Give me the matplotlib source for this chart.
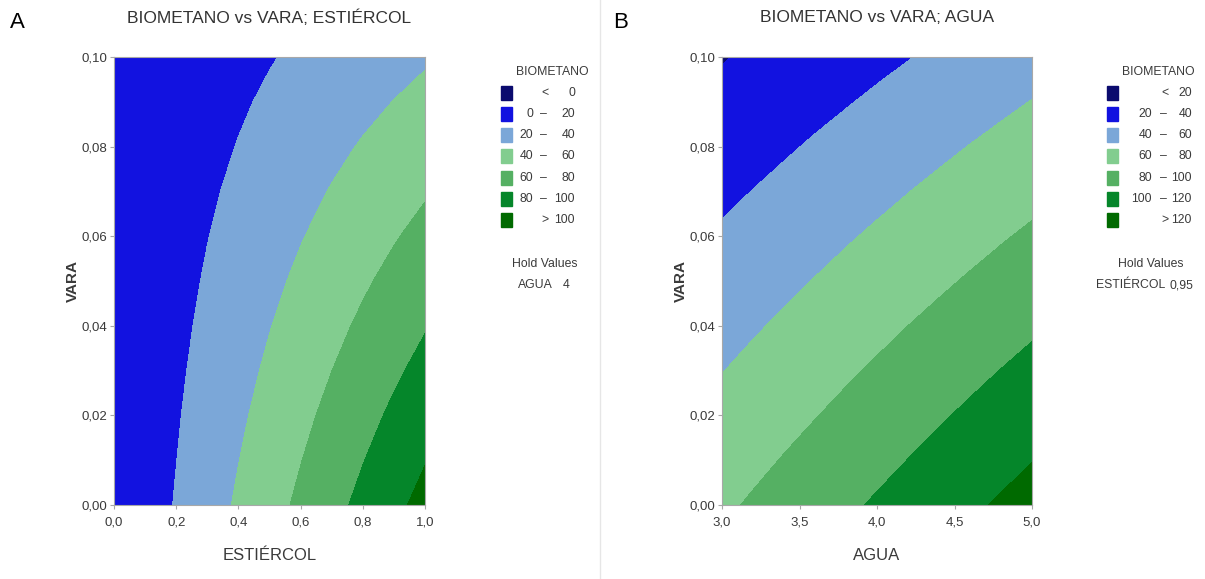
import numpy as np
import matplotlib.pyplot as plt

plt.rcParams['font.family'] = ['Liberation Sans', 'DejaVu Sans']

vara = [0.00, 0.01, 0.02, 0.03, 0.04, 0.05, 0.06, 0.07, 0.08, 0.09, 0.10]

# panel A: ESTIERCOL (x) vs VARA (y), AGUA held at 4
estiercol = [0.0, 0.1, 0.2, 0.3, 0.4, 0.5, 0.6, 0.7, 0.8, 0.9, 1.0]
biometano_a = [
    [0.5, 10.6, 21.2, 31.8, 42.4, 53.0, 63.6, 74.2, 84.8, 95.4, 106.0],
    [0.5, 9.9, 19.8, 29.8, 39.7, 49.6, 59.5, 69.4, 79.4, 89.3, 99.2],
    [0.5, 9.2, 18.5, 27.7, 37.0, 46.2, 55.4, 64.7, 73.9, 83.2, 92.4],
    [0.5, 8.6, 17.1, 25.7, 34.2, 42.8, 51.4, 59.9, 68.5, 77.0, 85.6],
    [0.5, 7.9, 15.8, 23.6, 31.5, 39.4, 47.3, 55.2, 63.0, 70.9, 78.8],
    [0.5, 7.2, 14.4, 21.6, 28.8, 36.0, 43.2, 50.4, 57.6, 64.8, 72.0],
    [0.5, 6.5, 13.0, 19.6, 26.1, 32.6, 39.1, 45.6, 52.2, 58.7, 65.2],
    [0.5, 5.8, 11.7, 17.5, 23.4, 29.2, 35.0, 40.9, 46.7, 52.6, 58.4],
    [0.5, 5.2, 10.3, 15.5, 20.6, 25.8, 31.0, 36.1, 41.3, 46.4, 51.6],
    [0.5, 4.5, 9.0, 13.4, 17.9, 22.4, 26.9, 31.4, 35.8, 40.3, 44.8],
    [0.5, 3.8, 7.6, 11.4, 15.2, 19.0, 22.8, 26.6, 30.4, 34.2, 38.0],
]
levels_a = [0, 20, 40, 60, 80, 100]

# panel B: AGUA (x) vs VARA (y), ESTIERCOL held at 0.95
agua = [3.0, 3.2, 3.4, 3.6, 3.8, 4.0, 4.2, 4.4, 4.6, 4.8, 5.0]
biometano_b = [
    [77.0, 82.0, 87.0, 92.0, 97.0, 102.0, 107.0, 112.0, 117.0, 122.0, 127.0],
    [71.2, 76.0, 80.9, 85.7, 90.6, 95.4, 100.2, 105.1, 109.9, 114.8, 119.6],
    [65.4, 70.1, 74.8, 79.4, 84.1, 88.8, 93.5, 98.2, 102.8, 107.5, 112.2],
    [59.6, 64.1, 68.6, 73.2, 77.7, 82.2, 86.7, 91.2, 95.8, 100.3, 104.8],
    [53.8, 58.2, 62.5, 66.9, 71.2, 75.6, 80.0, 84.3, 88.7, 93.0, 97.4],
    [48.0, 52.2, 56.4, 60.6, 64.8, 69.0, 73.2, 77.4, 81.6, 85.8, 90.0],
    [42.2, 46.2, 50.3, 54.3, 58.4, 62.4, 66.4, 70.5, 74.5, 78.6, 82.6],
    [36.4, 40.3, 44.2, 48.0, 51.9, 55.8, 59.7, 63.6, 67.4, 71.3, 75.2],
    [30.6, 34.3, 38.0, 41.8, 45.5, 49.2, 52.9, 56.6, 60.4, 64.1, 67.8],
    [24.8, 28.4, 31.9, 35.5, 39.0, 42.6, 46.2, 49.7, 53.3, 56.8, 60.4],
    [19.0, 22.4, 25.8, 29.2, 32.6, 36.0, 39.4, 42.8, 46.2, 49.6, 53.0],
]
levels_b = [20, 40, 60, 80, 100, 120]

colors = ['#0b0b6e', '#1212e0', '#7ba7d8', '#82cd8f', '#55b063', '#05862a', '#006a00']
txt = '#3a3a3a'
edge = '#a8a8a8'
W, H = 1205, 579


def comma(v, nd):
    return f'{v:.{nd}f}'.replace('.', ',')


def ftext(fig, x, y, s, **kw):
    kw.setdefault('fontsize', 8.8)
    kw.setdefault('color', txt)
    kw.setdefault('va', 'center')
    fig.text(x / W, 1 - y / H, s, **kw)


def panel(fig, rect, xs, zs, levels, xticks, title, xlabel, letter, lx, sq, offs):
    ax = fig.add_axes(rect)
    X, Y = np.meshgrid(xs, vara)
    ax.contourf(X, Y, np.array(zs), levels=[-1e9] + levels + [1e9], colors=colors)
    ax.set_xlim(xs[0], xs[-1])
    ax.set_ylim(0, 0.1)
    ax.set_xticks(xticks)
    ax.set_xticklabels([comma(v, 1) for v in xticks])
    yt = [0, 0.02, 0.04, 0.06, 0.08, 0.10]
    ax.set_yticks(yt)
    ax.set_yticklabels([comma(v, 2) for v in yt])
    ax.tick_params(colors=edge, labelcolor=txt, labelsize=9.5, length=3, width=0.8, pad=2)
    ax.tick_params(axis='x', pad=5)
    for s in ax.spines.values():
        s.set_color(edge)
        s.set_linewidth(0.8)
    ax.set_xlabel(xlabel, fontsize=12, color=txt, va='center')
    ax.xaxis.set_label_coords(0.5, -0.112)
    ax.set_ylabel('VARA', fontsize=11, color=txt, fontweight='bold', va='center')
    ax.yaxis.set_label_coords(-0.132, 0.5)
    ftext(fig, (rect[0] + rect[2] / 2) * W, 18, title, fontsize=12.5, color='#333333', ha='center')
    ftext(fig, lx, 22, letter, fontsize=16, color='black', ha='left')

    # legend
    lo_x, dash_x, hi_x, lt_x = offs
    ftext(fig, sq + 51, 72, 'BIOMETANO', ha='center')
    labels = [('', '<', levels[0])] + [(levels[i], '–', levels[i + 1]) for i in range(len(levels) - 1)] \
        + [('', '>', levels[-1])]
    for i, (lo, mid, hi) in enumerate(labels):
        yc = 92.5 + i * 21.3
        fig.patches.append(plt.Rectangle((sq / W, 1 - (yc + 7) / H), 11 / W, 14 / H,
                                         transform=fig.transFigure, color=colors[i]))
        if lo == '':
            ftext(fig, sq + lt_x, yc, mid, ha='center')
        else:
            ftext(fig, sq + lo_x, yc, str(lo), ha='right')
            ftext(fig, sq + dash_x, yc, mid, ha='center')
        ftext(fig, sq + hi_x, yc, str(hi), ha='right')
    ftext(fig, sq + 44, 264, 'Hold Values', ha='center')
    return ax


fig = plt.figure(figsize=(W / 100, H / 100), dpi=100)
panel(fig, [114 / W, 74 / H, 311 / W, 448 / H], estiercol, biometano_a, levels_a,
      [0, 0.2, 0.4, 0.6, 0.8, 1.0], 'BIOMETANO vs VARA; ESTIÉRCOL', 'ESTIÉRCOL',
      'A', 10, 501, (32, 42, 74, 44))
ftext(fig, 535, 285, 'AGUA', ha='center')
ftext(fig, 566, 285, '4', ha='center')

panel(fig, [722 / W, 74 / H, 310 / W, 448 / H], agua, biometano_b, levels_b,
      [3.0, 3.5, 4.0, 4.5, 5.0], 'BIOMETANO vs VARA; AGUA', 'AGUA',
      'B', 613, 1107, (45, 56, 85, 58))
ftext(fig, 1131, 285, 'ESTIÉRCOL', ha='center')
ftext(fig, 1181, 285, '0,95', ha='center')

fig.add_artist(plt.Line2D([600 / W, 600 / W], [0, 1], color='#e6e6e6', lw=1,
                          transform=fig.transFigure))
fig.savefig('out.png', dpi=100)
